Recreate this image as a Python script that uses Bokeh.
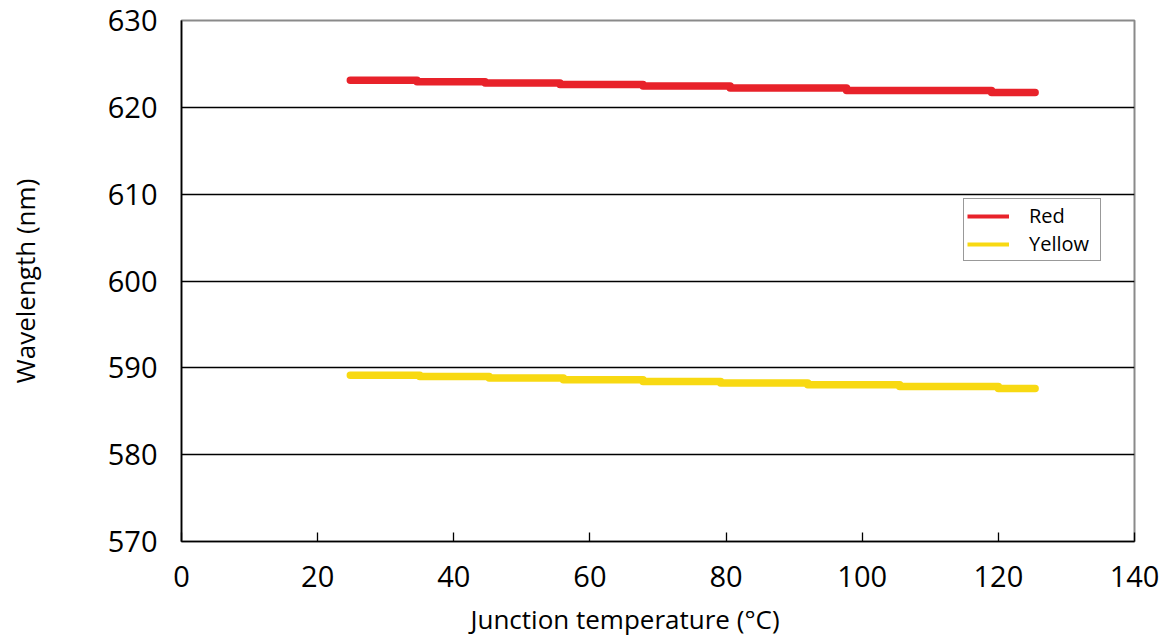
from bokeh.plotting import figure
from bokeh.models import Range1d, Legend, LegendItem, FixedTicker, Title
from bokeh.embed import file_html
from bokeh.resources import INLINE

red_edges = [24.8, 34.6, 44.6, 55.6, 67.8, 80.6, 97.7, 119.0, 125.4]
red_levels = [623.12, 622.95, 622.80, 622.62, 622.45, 622.22, 621.95, 621.72]

yellow_edges = [24.8, 35.0, 45.2, 56.1, 67.8, 79.2, 92.0, 105.5, 120.0, 125.4]
yellow_levels = [589.15, 589.0, 588.82, 588.64, 588.44, 588.24, 588.06, 587.86, 587.62]

x_ticks = [0, 20, 40, 60, 80, 100, 120, 140]
y_ticks = [570, 580, 590, 600, 610, 620, 630]

x_title = "Junction temperature (\u00b0C)"
y_title = "Wavelength (nm)"

RED = "#E8222A"
YELLOW = "#F8D912"
FONT = "Open Sans"

p = figure(frame_width=953, frame_height=521,
           min_border_left=181, min_border_top=20, min_border_right=30, min_border_bottom=2,
           x_range=Range1d(0, 140), y_range=Range1d(570, 630),
           output_backend="svg", toolbar_location=None,
           background_fill_color="white", border_fill_color="white")

p.outline_line_color = "#8a8a8a"
p.outline_line_width = 2

p.xgrid.grid_line_color = None
p.ygrid.grid_line_color = "black"
p.ygrid.grid_line_width = 1.5

p.xaxis.ticker = FixedTicker(ticks=x_ticks)
p.yaxis.ticker = FixedTicker(ticks=y_ticks)
for ax in (p.xaxis, p.yaxis):
    ax.axis_line_color = "black"
    ax.axis_line_width = 1.6
    ax.major_tick_line_color = "black"
    ax.major_tick_line_width = 1.3
    ax.minor_tick_line_color = None
    ax.major_tick_out = 0
    ax.major_label_text_font = FONT
    ax.major_label_text_font_size = "29px"
    ax.major_label_text_color = "black"
    ax.axis_label_text_font = FONT
    ax.axis_label_text_font_size = "26px"
    ax.axis_label_text_font_style = "normal"
    ax.axis_label_text_color = "black"

p.xaxis.major_tick_in = 9
p.yaxis.major_tick_in = 0
p.xaxis.major_label_standoff = 24
p.yaxis.major_label_standoff = 24
p.yaxis.axis_label = y_title
p.yaxis.axis_label_standoff = 62

# x title sits left of the frame centre in the original
p.add_layout(Title(text=x_title, align="left", offset=289, standoff=18,
                   text_font=FONT, text_font_size="26px", text_font_style="normal",
                   text_color="black"), "below")

p.step(x=red_edges, y=red_levels + [red_levels[-1]], mode="after",
       line_color=RED, line_width=7.5, line_cap="round", line_join="round")
p.step(x=yellow_edges, y=yellow_levels + [yellow_levels[-1]], mode="after",
       line_color=YELLOW, line_width=7.5, line_cap="round", line_join="round")

# thinner swatches for the legend (drawn outside the visible range)
r_leg = p.line(x=[-50, -49], y=[500, 500], line_color=RED, line_width=4)
y_leg = p.line(x=[-50, -49], y=[500, 500], line_color=YELLOW, line_width=4)

legend = Legend(items=[LegendItem(label="Red", renderers=[r_leg]),
                       LegendItem(label="Yellow", renderers=[y_leg])],
                location=(782, 280),
                border_line_color="#333333", border_line_width=1.3,
                background_fill_color="white", background_fill_alpha=1,
                label_text_font=FONT, label_text_font_size="20px",
                label_text_color="black",
                glyph_width=42, glyph_height=16, label_standoff=20,
                label_width=68, label_height=16,
                padding=3, spacing=1, margin=0)
p.add_layout(legend, "center")

open("out.html", "w").write(file_html(p, INLINE))
